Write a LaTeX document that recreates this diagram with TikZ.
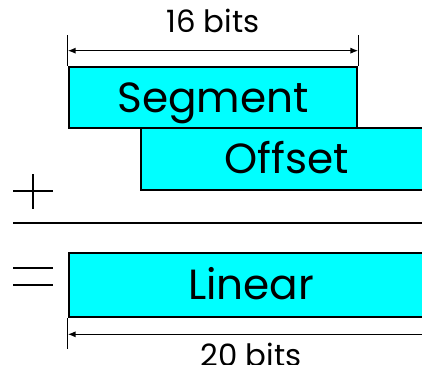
\documentclass[tikz,border=0pt]{standalone}
\usepackage{fontspec}
\setmainfont{Poppins}
\usetikzlibrary{arrows.meta}
\usetikzlibrary{positioning}
\definecolor{fieldcyan}{RGB}{0,255,255}

\begin{document}
\begin{tikzpicture}[
  field/.style={rectangle, draw, fill=fieldcyan, line width=1.5pt, inner sep=0pt,
    text height=17pt, text depth=0pt, font=\fontsize{24}{27}\selectfont},
  dim/.style={{Latex[length=4.5pt,width=3.5pt]}-{Latex[length=4.5pt,width=3.5pt]}, line width=0.8pt},
  guide/.style={line width=0.8pt},
  op/.style={line width=1.4pt},
  bits/.style={font=\fontsize{17.5}{20}\selectfont, inner sep=0pt}
]
\useasboundingbox (0,0) rectangle (8.44,7.28);
\clip (0,0) rectangle (8.44,7.28);

% Address fields
\node[field, minimum width=5.76cm, minimum height=1.22cm] (seg) at (4.26,5.33) {Segment};
\node[field, minimum width=5.84cm, minimum height=1.24cm] (off) at (5.74,4.10) {Offset};
\node[field, minimum width=7.28cm, minimum height=1.28cm] (lin) at (5.02,1.58) {Linear};

% Sum bar, plus and equals signs
\draw[op] (0.26,3.46) -- (1.06,3.46);
\draw[op] (0.66,3.10) -- (0.66,3.80);
\draw[line width=1.3pt] (0.26,2.82) -- (8.66,2.82);
\draw[op] (0.26,1.92) -- (1.06,1.92);
\draw[op] (0.26,1.58) -- (1.06,1.58);

% Widths
\draw[guide] (seg.north west) -- ++(0,0.62);
\draw[guide] (seg.north east) -- ++(0,0.62);
\draw[dim] ([yshift=0.3cm]seg.north west) -- ([yshift=0.3cm]seg.north east)
  node[midway, above=0.35cm, bits] (w16) {16 bits};

\draw[guide] (lin.south west) -- ++(0,-0.62);
\draw[guide] (lin.south east) -- ++(0,-0.62);
\draw[dim] ([yshift=-0.32cm]lin.south west) -- ([yshift=-0.32cm]lin.south east)
  node[midway, below=0.16cm, bits] (w20) {20 bits};
\end{tikzpicture}
\end{document}
